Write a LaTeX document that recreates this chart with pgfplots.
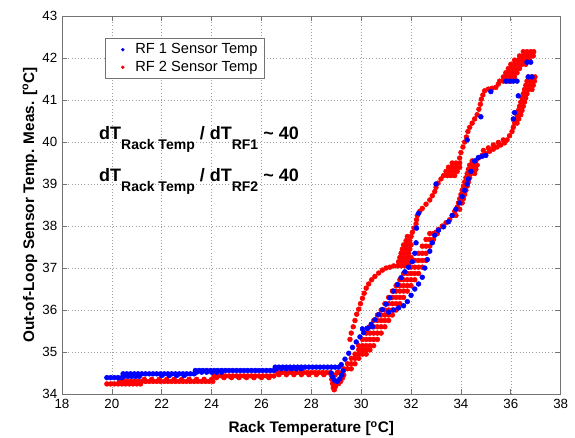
\documentclass[border=0pt]{standalone}
\usepackage{fontspec}
\setmainfont{Liberation Sans}
\usepackage{pgfplots}
\pgfplotsset{compat=1.18}
\definecolor{axgray}{gray}{0.45}
\definecolor{rfblue}{rgb}{0,0,1}
\definecolor{rfred}{rgb}{1,0,0}

\begin{document}
\begin{tikzpicture}
\useasboundingbox (-46.5pt,-32.25pt) rectangle (384.75pt,295.5pt);
\begin{axis}[
  at={(0,0)}, anchor=south west,
  scale only axis, width=374pt, height=283.5pt,
  xmin=18, xmax=38, ymin=34, ymax=43,
  xtick={18,20,...,38}, ytick={34,35,...,43},
  grid=major, grid style={dotted, gray!75, line width=0.45pt},
  axis line style={axgray, line width=0.6pt},
  tick style={axgray, line width=0.5pt},
  tick align=inside, major tick length=4pt,
  tick label style={font=\fontsize{10}{12}\selectfont, black},
  /pgf/number format/assume math mode=true,
  xlabel={Rack Temperature [\textsuperscript{o}C]},
  ylabel={Out-of-Loop Sensor Temp. Meas. [\textsuperscript{o}C]},
  label style={font=\bfseries\fontsize{11.5}{13}\selectfont},
  xlabel shift=3pt, ylabel shift=-3pt,
  legend style={at={(0.086,0.942)}, anchor=north west, draw=axgray,
    font=\fontsize{11}{13}\selectfont, legend cell align=left,
    inner xsep=3pt, inner ysep=2pt, row sep=0pt},
  legend image code/.code={
    \path[draw=none, fill=none] (0cm,-0.05cm) rectangle (0.62cm,0.05cm);
    \fill[#1] (0.36cm,0cm) circle (1.1pt);},
]
\addlegendimage{rfblue}
\addlegendentry{RF 1 Sensor Temp}
\addlegendimage{rfred}
\addlegendentry{RF 2 Sensor Temp}

% RF 2 (red)
\addplot[only marks, mark=*, mark size=1.8pt, rfred, forget plot] coordinates {
(19.80,34.24)(19.95,34.24)(20.10,34.24)(20.25,34.24)(20.40,34.24)(20.55,34.24)(20.70,34.24)(20.85,34.24)(21.00,34.24)(21.15,34.24)
(20.30,34.30)(20.45,34.30)(20.60,34.30)(20.75,34.30)(20.90,34.30)(21.05,34.30)(21.20,34.30)(21.35,34.30)(21.50,34.30)(21.65,34.30)
(21.80,34.30)(21.95,34.30)(22.10,34.30)(22.25,34.30)(22.40,34.30)(22.55,34.30)(22.70,34.30)(22.85,34.30)(23.00,34.30)(23.15,34.30)
(23.30,34.30)(23.45,34.30)(23.60,34.30)(23.75,34.30)(23.90,34.30)(24.05,34.30)
(21.30,34.35)(21.60,34.35)(21.90,34.35)(22.20,34.35)(22.50,34.35)(22.80,34.35)(23.10,34.35)(23.40,34.35)(23.70,34.35)(24.00,34.35)
(24.10,34.43)(24.25,34.43)(24.40,34.43)(24.55,34.43)(24.70,34.43)(24.85,34.43)(25.00,34.43)(25.15,34.43)(25.30,34.43)(25.45,34.43)
(25.60,34.43)(25.75,34.43)(25.90,34.43)(26.05,34.43)(26.20,34.43)(26.35,34.43)(26.50,34.43)
(24.20,34.39)(24.50,34.39)(24.80,34.39)(25.10,34.39)(25.40,34.39)(25.70,34.39)(26.00,34.39)(26.30,34.39)
(26.65,34.51)(26.80,34.51)(26.95,34.51)(27.10,34.51)(27.25,34.51)(27.40,34.51)(27.55,34.51)(27.70,34.51)(27.85,34.51)(28.00,34.51)
(28.15,34.51)(28.30,34.51)(28.45,34.51)(28.60,34.51)(28.75,34.51)
(26.70,34.46)(27.00,34.46)(27.30,34.46)(27.60,34.46)(27.90,34.46)(28.20,34.46)(28.50,34.46)(28.80,34.46)
(28.80,34.45)(28.82,34.35)(28.85,34.25)(28.88,34.15)(28.92,34.10)(28.97,34.18)(29.02,34.28)(29.10,34.25)(29.18,34.30)(29.25,34.38)
(29.30,34.45)(28.95,34.45)(29.05,34.52)(29.15,34.50)
(29.45,34.60)(29.60,34.72)(29.75,34.85)(29.90,34.95)(30.05,35.05)(30.20,35.15)(30.35,35.30)(30.50,35.45)(30.65,35.60)(30.80,35.75)
(30.95,35.88)(31.10,36.00)(31.25,36.15)(31.40,36.30)(31.55,36.45)(31.70,36.58)(31.85,36.72)(32.00,36.87)(32.15,37.02)(32.30,37.18)
(32.45,37.35)(32.60,37.52)(32.75,37.68)(32.90,37.82)
(29.30,34.60)(29.45,34.72)(29.60,34.85)(29.75,34.95)(29.90,35.05)(30.05,35.15)(30.20,35.30)(30.35,35.45)(30.50,35.60)(30.65,35.75)
(30.80,35.88)(30.95,36.00)(31.10,36.15)(31.25,36.30)(31.40,36.45)(31.55,36.58)(31.70,36.72)(31.85,36.87)(32.00,37.02)(32.15,37.18)
(32.30,37.35)(32.45,37.52)(32.60,37.68)(32.75,37.82)
(29.60,34.60)(29.75,34.72)(29.90,34.85)(30.05,34.95)(30.20,35.05)(30.35,35.15)(30.50,35.30)(30.65,35.45)(30.80,35.60)(30.95,35.75)
(31.10,35.88)(31.25,36.00)(31.40,36.15)(31.55,36.30)(31.70,36.45)(31.85,36.58)(32.00,36.72)(32.15,36.87)(32.30,37.02)(32.45,37.18)
(32.60,37.35)(32.75,37.52)(32.90,37.68)(33.05,37.82)
(30.20,34.95)(30.35,35.05)(30.50,35.15)(30.65,35.30)(30.80,35.45)(30.95,35.60)(31.10,35.75)(31.25,35.88)(31.40,36.00)(31.55,36.15)
(31.70,36.30)(31.85,36.45)(32.00,36.58)(32.15,36.72)(32.30,36.87)(32.45,37.02)(32.60,37.18)
(29.90,35.15)(30.05,35.30)(30.20,35.45)(30.35,35.60)(30.50,35.75)(30.65,35.88)(30.80,36.00)(30.95,36.15)(31.10,36.30)(31.25,36.45)
(31.40,36.58)(31.55,36.72)(31.70,36.87)
(29.55,35.30)(29.60,35.45)(29.68,35.60)(29.75,35.75)(29.82,35.90)(29.90,36.02)(29.97,36.15)(30.05,36.28)(30.12,36.40)(30.20,36.52)
(30.30,36.62)(30.42,36.72)(30.55,36.80)(30.70,36.88)(30.85,36.95)(31.00,37.00)(31.15,37.02)(31.30,37.05)
(31.45,37.05)(31.60,37.05)(31.75,37.05)(31.90,37.05)(31.50,37.15)(31.65,37.15)(31.80,37.15)(31.95,37.15)
(31.55,37.25)(31.70,37.25)(31.85,37.25)(32.00,37.25)(31.60,37.35)(31.75,37.35)(31.90,37.35)
(31.65,37.45)(31.80,37.45)(31.95,37.45)(31.70,37.55)(31.85,37.55)(32.00,37.55)
(31.80,37.65)(31.95,37.65)(31.85,37.75)(32.00,37.75)
(32.05,37.85)(32.12,37.95)(32.20,38.05)(32.22,38.15)(32.25,38.25)(32.35,38.35)(32.45,38.42)(32.60,38.52)(32.75,38.62)(32.85,38.72)
(32.95,38.82)(33.00,38.92)(33.08,39.02)(33.20,39.12)
(33.30,39.20)(33.45,39.20)(33.60,39.20)(33.75,39.20)(33.40,39.30)(33.55,39.30)(33.70,39.30)(33.85,39.30)
(33.50,39.40)(33.65,39.40)(33.80,39.40)(33.95,39.40)(33.65,39.50)(33.80,39.50)(33.95,39.50)
(33.95,39.62)(34.00,39.75)(34.08,39.88)(34.15,40.00)(34.22,40.12)(34.28,40.25)(34.35,40.35)(34.45,40.45)(34.55,40.55)(34.65,40.65)
(34.72,40.78)(34.78,40.90)(34.82,41.02)(34.88,41.12)(34.95,41.22)(35.10,41.26)(35.25,41.28)(35.40,41.30)(35.50,41.38)
(35.55,41.45)(35.70,41.45)(35.85,41.45)(36.00,41.45)(35.70,41.55)(35.85,41.55)(36.00,41.55)(36.15,41.55)
(35.80,41.65)(35.95,41.65)(36.10,41.65)(36.25,41.65)(35.90,41.75)(36.05,41.75)(36.20,41.75)(36.35,41.75)
(36.00,41.85)(36.15,41.85)(36.30,41.85)(36.45,41.85)(36.60,41.85)(36.15,41.95)(36.30,41.95)(36.45,41.95)(36.60,41.95)(36.75,41.95)
(36.35,42.05)(36.50,42.05)(36.65,42.05)(36.80,42.05)(36.90,42.05)(36.50,42.15)(36.65,42.15)(36.80,42.15)(36.92,42.15)
(36.70,41.55)(36.85,41.55)(36.97,41.55)(36.65,41.45)(36.80,41.45)(36.95,41.45)(36.60,41.35)(36.75,41.35)(36.90,41.35)
(36.55,41.25)(36.70,41.25)(36.85,41.25)(36.50,41.15)(36.65,41.15)(36.45,41.05)(36.60,41.05)(36.40,40.95)(36.55,40.95)
(36.35,40.85)(36.50,40.85)(36.30,40.75)(36.45,40.75)(36.25,40.65)(36.40,40.65)(36.20,40.55)(36.32,40.55)(36.15,40.45)(36.25,40.45)
(36.10,40.35)(36.05,40.25)(35.95,40.15)(35.85,40.05)
(35.75,39.98)(35.60,39.93)(35.45,39.88)(35.30,39.83)(35.15,39.78)(35.00,39.73)(34.85,39.68)(34.70,39.62)
(35.70,40.05)(35.50,39.99)(35.30,39.93)(35.10,39.86)(34.90,39.80)
(34.45,39.55)(34.60,39.55)(34.35,39.45)(34.50,39.45)(34.65,39.45)(34.30,39.35)(34.45,39.35)(34.60,39.35)
(34.25,39.25)(34.40,39.25)(34.55,39.25)(34.20,39.15)(34.35,39.15)
(34.15,39.05)(34.30,39.05)(34.10,38.95)(34.25,38.95)(34.05,38.85)(34.20,38.85)(34.00,38.75)(34.15,38.75)(33.95,38.65)(34.10,38.65)
(33.90,38.55)(34.05,38.55)(33.85,38.45)(33.95,38.40)(33.75,38.35)(33.65,38.25)(33.80,38.25)(33.55,38.15)(33.40,38.08)(33.25,38.00)
(33.10,37.92)(33.00,37.85)
};

% RF 1 (blue)
\addplot[only marks, mark=*, mark size=1.8pt, rfblue, forget plot] coordinates {
(19.80,34.39)(19.95,34.39)(20.10,34.39)(20.25,34.39)(20.40,34.39)
(20.50,34.42)(20.65,34.42)(20.80,34.42)(20.95,34.42)(21.10,34.42)
(20.45,34.48)(20.60,34.48)(20.75,34.48)(20.90,34.48)(21.05,34.48)(21.20,34.48)(21.35,34.48)(21.50,34.48)(21.65,34.48)(21.80,34.48)
(21.95,34.48)(22.10,34.48)(22.25,34.48)(22.40,34.48)(22.55,34.48)(22.70,34.48)(22.85,34.48)(23.00,34.48)(23.15,34.48)(23.30,34.48)
(22.00,34.44)(22.30,34.44)(22.60,34.44)(22.90,34.44)
(23.35,34.56)(23.50,34.56)(23.65,34.56)(23.80,34.56)(23.95,34.56)(24.10,34.56)(24.25,34.56)(24.40,34.56)(24.55,34.56)(24.70,34.56)
(24.85,34.56)(25.00,34.56)(25.15,34.56)(25.30,34.56)(25.45,34.56)(25.60,34.56)(25.75,34.56)(25.90,34.56)(26.05,34.56)(26.20,34.56)
(26.35,34.56)(26.50,34.56)
(23.40,34.52)(23.60,34.52)(23.80,34.52)(24.00,34.52)(24.20,34.52)(24.40,34.52)
(26.55,34.64)(26.70,34.64)(26.85,34.64)(27.00,34.64)(27.15,34.64)(27.30,34.64)(27.45,34.64)(27.60,34.64)(27.75,34.64)(27.90,34.64)
(28.05,34.64)(28.20,34.64)(28.35,34.64)(28.50,34.64)(28.65,34.64)(28.80,34.64)(28.95,34.64)(29.10,34.64)
(26.60,34.60)(26.80,34.60)(27.00,34.60)(27.20,34.60)(27.40,34.60)(27.60,34.60)
(28.80,34.50)(28.86,34.40)(28.94,34.32)(29.04,34.30)(29.14,34.36)(29.22,34.45)(29.28,34.55)
(29.20,34.70)(29.35,34.83)(29.50,34.97)(29.65,35.11)(29.80,35.24)(29.95,35.36)(30.10,35.46)(30.25,35.56)(30.40,35.66)(30.55,35.77)
(30.70,35.89)(30.85,36.01)(31.00,36.14)(31.15,36.29)(31.30,36.45)(31.45,36.61)(31.60,36.77)(31.75,36.91)(31.90,37.02)(32.05,37.15)
(32.15,37.35)(32.20,37.60)(32.22,37.95)(32.30,38.30)
(33.00,39.00)(34.25,40.05)(34.80,40.60)(35.20,41.20)(35.80,41.45)(35.95,41.45)(36.10,41.45)(36.25,41.45)(36.65,41.90)(36.80,41.90)
(36.70,41.55)(36.85,41.55)
(30.05,35.55)(30.25,35.57)(30.45,35.60)
(31.10,35.95)(31.30,36.00)(31.50,36.05)(31.70,36.10)(31.85,36.20)(32.00,36.35)(32.15,36.50)(32.30,36.62)(32.45,36.78)(32.55,37.00)
(32.65,37.20)(32.75,37.40)(32.85,37.60)(32.95,37.78)(33.10,37.90)(33.30,37.98)(33.50,38.10)(33.65,38.25)(33.80,38.40)(33.95,38.55)
(34.05,38.70)(34.15,38.85)(34.25,39.00)(34.30,39.12)(34.40,39.30)(34.55,39.55)(34.70,39.63)(34.85,39.66)(35.00,39.68)
(36.10,40.55)(36.15,40.70)(36.30,41.10)
};

\node[anchor=base west, inner sep=0pt, font=\bfseries\fontsize{13.5}{15}\selectfont] at (axis cs:19.48,40.05)
  {dT\raisebox{-7.5pt}{\fontsize{10.5}{12}\selectfont Rack Temp} / dT\raisebox{-7.5pt}{\fontsize{10.5}{12}\selectfont RF1} \textasciitilde\ 40};
\node[anchor=base west, inner sep=0pt, font=\bfseries\fontsize{13.5}{15}\selectfont] at (axis cs:19.48,39.05)
  {dT\raisebox{-7.5pt}{\fontsize{10.5}{12}\selectfont Rack Temp} / dT\raisebox{-7.5pt}{\fontsize{10.5}{12}\selectfont RF2} \textasciitilde\ 40};
\end{axis}
\end{tikzpicture}
\end{document}
